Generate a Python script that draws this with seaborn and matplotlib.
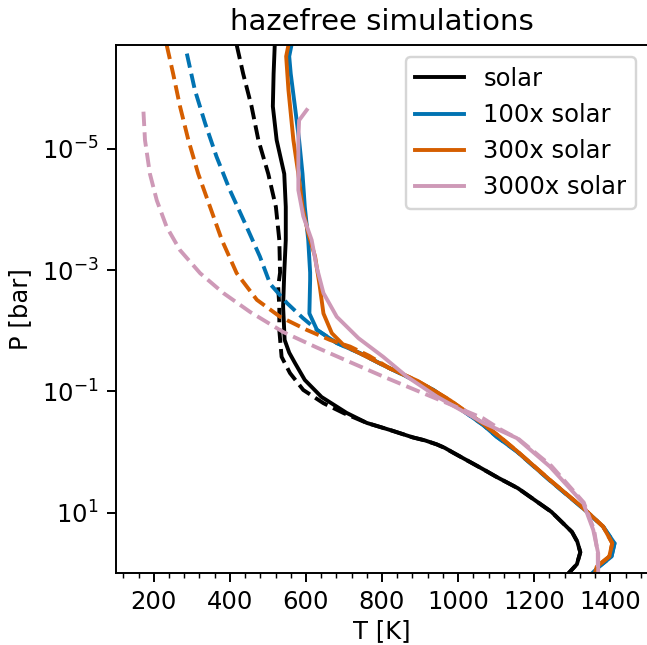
import matplotlib
matplotlib.use("Agg")
import matplotlib.pyplot as plt
import matplotlib.ticker as mticker
import seaborn as sns

# ---- data (T in K, P in bar) ----
labels = ["solar", "100x solar", "300x solar", "3000x solar"]
colors = ["#000000", "#0173B2", "#D55E00", "#CE99B7"]

T_solar = [518, 515, 513, 523, 543, 547, 547, 543, 540, 544, 556, 571, 597, 641, 707, 760, 821, 881, 913, 944, 965, 986, 1062, 1101, 1157, 1245, 1299, 1313, 1321, 1312, 1290]
P_solar = [1.95e-7, 5.8e-7, 2.0e-6, 7.2e-6, 2.6e-5, 9.1e-5, 3.2e-4, 1.1e-3, 4.0e-3, 1.42e-2, 2.3e-2, 3.4e-2, 6.5e-2, 0.124, 0.227, 0.332, 0.434, 0.575, 0.645, 0.751, 0.857, 1.02, 1.87, 2.58, 3.96, 9.7, 20.8, 30, 45, 71, 100]

T_solar_d = [418, 435, 457, 475, 501, 521, 530, 532, 527, 530, 530, 536, 558, 593, 646, 700, 760, 821, 881, 913, 944, 965, 986, 1062, 1101, 1157, 1245, 1299, 1313, 1321, 1312, 1290]
P_solar_d = [1.95e-7, 5.8e-7, 2.0e-6, 7.2e-6, 2.6e-5, 9.1e-5, 3.2e-4, 1.1e-3, 1.88e-3, 4.0e-3, 9.8e-3, 2.7e-2, 5.0e-2, 9.5e-2, 0.157, 0.23, 0.332, 0.434, 0.575, 0.645, 0.751, 0.857, 1.02, 1.87, 2.58, 3.96, 9.7, 20.8, 30, 45, 71, 100]

T_100 = [562, 556, 560, 571, 582, 591, 597, 606, 611, 611, 609, 629, 681, 742, 803, 865, 935, 1013, 1066, 1101, 1154, 1241, 1329, 1381, 1411, 1403, 1370, 1352]
P_100 = [1.95e-7, 3.0e-7, 5.8e-7, 2.0e-6, 7.2e-6, 2.6e-5, 9.1e-5, 3.2e-4, 1.1e-3, 1.46e-3, 5.2e-3, 9.7e-3, 1.6e-2, 2.35e-2, 3.7e-2, 5.7e-2, 9.5e-2, 0.21, 0.36, 0.56, 0.98, 2.95, 8.6, 17, 32, 53, 78, 100]

T_100_d = [287, 308, 335, 365, 400, 440, 479, 506, 550, 592, 629, 681, 742, 803, 865, 935, 1013, 1066, 1101, 1154, 1241, 1329, 1381, 1411, 1403, 1370, 1352]
P_100_d = [2.7e-7, 1.07e-6, 3.8e-6, 1.35e-5, 4.8e-5, 1.7e-4, 6.0e-4, 1.7e-3, 3.5e-3, 6.2e-3, 9.7e-3, 1.6e-2, 2.35e-2, 3.7e-2, 5.7e-2, 9.5e-2, 0.21, 0.36, 0.56, 0.98, 2.95, 8.6, 17, 32, 53, 78, 100]

T_300 = [554, 548, 554, 567, 580, 591, 606, 624, 636, 646, 668, 700, 760, 821, 891, 934, 979, 1022, 1066, 1110, 1154, 1241, 1329, 1381, 1405, 1397, 1364, 1360]
P_300 = [1.95e-7, 3.0e-7, 1.07e-6, 7.2e-6, 2.6e-5, 9.1e-5, 2.5e-4, 6.0e-4, 1.8e-3, 5.2e-3, 1.1e-2, 1.75e-2, 2.7e-2, 4.2e-2, 6.62e-2, 9.48e-2, 0.141, 0.219, 0.345, 0.565, 0.96, 2.89, 8.45, 17, 32, 53, 78, 100]

T_300_d = [234, 251, 269, 291, 317, 348, 379, 418, 471, 532, 602, 663, 716, 766, 821, 891, 934, 979, 1022, 1066, 1110, 1154, 1241, 1329, 1381, 1405, 1397, 1364, 1360]
P_300_d = [1.95e-7, 5.8e-7, 2.0e-6, 7.2e-6, 2.6e-5, 9.1e-5, 3.2e-4, 1.13e-3, 3.1e-3, 5.9e-3, 9.7e-3, 1.42e-2, 1.83e-2, 2.6e-2, 4.2e-2, 6.62e-2, 9.48e-2, 0.141, 0.219, 0.345, 0.565, 0.96, 2.89, 8.45, 17, 32, 53, 78, 100]

T_3000 = [602, 582, 580, 580, 593, 615, 628, 646, 681, 738, 803, 865, 944, 1022, 1066, 1154, 1241, 1329, 1355, 1368, 1368]
P_3000 = [2.3e-6, 3.4e-6, 7.2e-6, 4.8e-5, 1.3e-4, 3.2e-4, 8.8e-4, 2.4e-3, 5.9e-3, 1.33e-2, 2.7e-2, 5.7e-2, 0.122, 0.23, 0.33, 0.59, 1.74, 7.0, 19.3, 47, 100]

T_3000_d = [173, 177, 190, 208, 234, 269, 322, 383, 453, 540, 628, 716, 803, 891, 979, 1066, 1110, 1160, 1245, 1330, 1357, 1367, 1367]
P_3000_d = [2.45e-6, 7.2e-6, 2.6e-5, 7.1e-5, 1.95e-4, 4.7e-4, 1.13e-3, 2.4e-3, 4.9e-3, 1.05e-2, 1.89e-2, 3.3e-2, 5.7e-2, 9.7e-2, 0.164, 0.28, 0.42, 0.62, 1.7, 6.8, 19, 47, 100]

T_ticks = [200, 400, 600, 800, 1000, 1200, 1400]
P_ticks = [1e-5, 1e-3, 1e-1, 1e1]

solid_T = [T_solar, T_100, T_300, T_3000]
solid_P = [P_solar, P_100, P_300, P_3000]
dash_T = [T_solar_d, T_100_d, T_300_d, T_3000_d]
dash_P = [P_solar_d, P_100_d, P_300_d, P_3000_d]

DPI = 175
fig = plt.figure(figsize=(647 / DPI, 645 / DPI), dpi=DPI)
ax = fig.add_axes([0.1788, 0.1112, 0.8234, 0.8190])

for lab, col, ts, ps, td, pd_ in zip(labels, colors, solid_T, solid_P, dash_T, dash_P):
    sns.lineplot(x=ts, y=ps, sort=False, estimator=None, color=col, lw=1.6,
                 label=lab, ax=ax)
    sns.lineplot(x=td, y=pd_, sort=False, estimator=None, color=col, lw=1.6,
                 linestyle="--", legend=False, ax=ax)

ax.set_yscale("log")
ax.set_ylim(100, 1.95e-7)
ax.set_xlim(100, 1500)
ax.xaxis.set_major_locator(mticker.FixedLocator(T_ticks))
ax.xaxis.set_minor_locator(mticker.MultipleLocator(40))
ax.yaxis.set_major_locator(mticker.FixedLocator(P_ticks))
ax.yaxis.set_major_formatter(mticker.LogFormatterSciNotation())
ax.yaxis.set_minor_locator(mticker.NullLocator())
ax.set_xlabel("T [K]", labelpad=2)
ax.set_ylabel("P [bar]")
ax.set_title("hazefree simulations")
ax.legend(loc="upper right")

fig.savefig("out.png", dpi=DPI)
